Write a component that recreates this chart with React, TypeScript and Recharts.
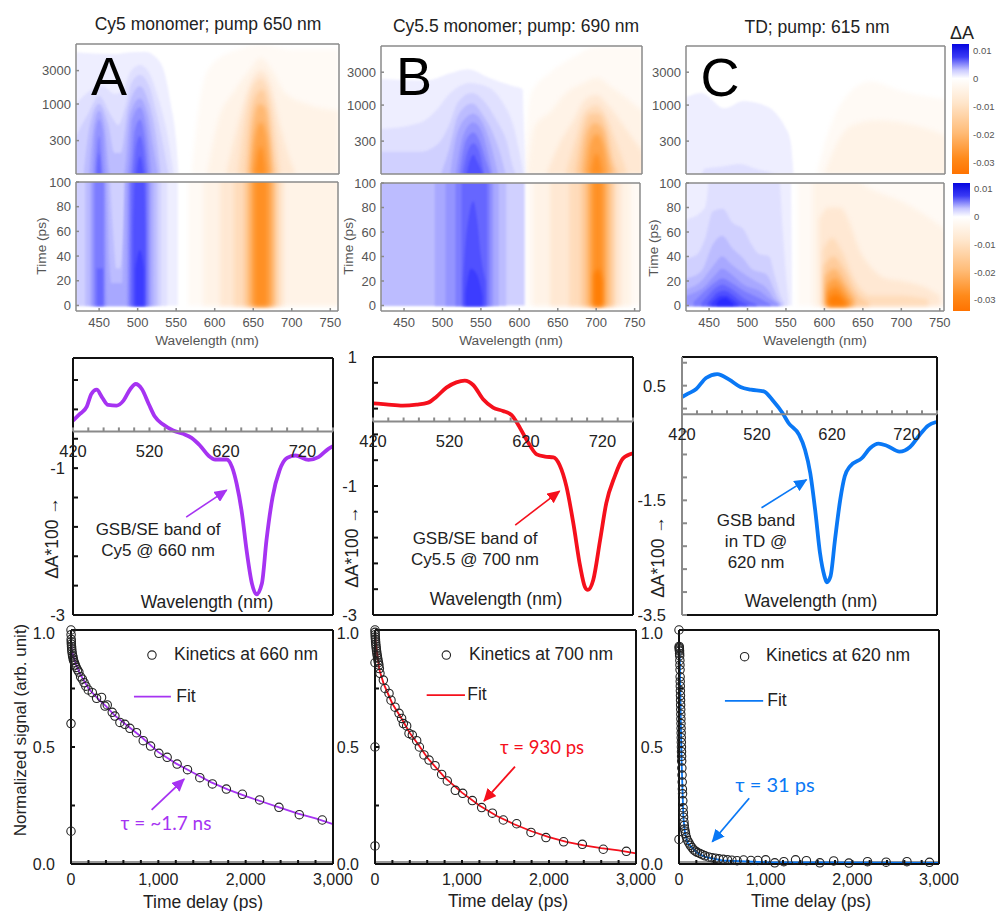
import { ComposedChart, Area, Line, Scatter, Bar, XAxis, YAxis, ReferenceLine } from 'recharts'

const FONT = '"Liberation Sans", Arial, sans-serif'
const PAD = 44
const PAD_B = 34
const PAD_T = 12
const PAD_R = 30

// contour colours, lightest first
const blueRamp = ['#eeeeff', '#e0e0ff', '#d0d0ff', '#bcbcff', '#a8a8ff', '#9494ff', '#7c7cff', '#6666ff', '#5050ff', '#3c3cff', '#2a2aff']
const orangeRamp = ['#fffaf5', '#fff3e7', '#ffe8d3', '#ffdcbb', '#ffcc9c', '#ffb872', '#ffa348', '#ff9024', '#ff7e05']

// contour outlines as [wavelength nm, time ps]
const aTopBlue = [
  [[420, 5500], [470, 5200], [490, 5500], [510, 5600], [525, 4500], [535, 2800], [543, 1000], [550, 300], [553, 100]],
  [[420, 1000], [440, 1600], [455, 1800], [470, 1400], [480, 1500], [490, 2800], [503, 3600], [515, 2800], [527, 1200], [537, 450], [547, 100]],
  [[420, 350], [435, 700], [450, 1300], [465, 700], [475, 500], [485, 1000], [492, 2000], [503, 2600], [515, 1800], [525, 700], [532, 300], [540, 100]],
  [[430, 100], [438, 500], [450, 1000], [462, 500], [470, 200], [478, 200], [488, 900], [503, 1800], [515, 1000], [523, 400], [530, 100]],
  [[437, 100], [442, 400], [450, 800], [458, 400], [464, 100], [482, 100], [490, 700], [503, 1200], [513, 700], [520, 250], [526, 100]],
  [[442, 100], [445, 400], [450, 600], [455, 400], [459, 100], [487, 100], [493, 600], [503, 900], [511, 500], [518, 100]],
  [[445, 100], [450, 350], [455, 100], [491, 100], [496, 400], [503, 600], [509, 350], [514, 100]],
  [[447, 100], [450, 200], [453, 100], [494, 100], [498, 250], [503, 350], [507, 250], [511, 100]],
  [[498, 100], [503, 180], [508, 100]],
]
const aTopOrange = [
  [[570, 100], [585, 2000], [600, 4000], [630, 6000], [660, 7000], [700, 6000], [761, 6000]],
  [[590, 100], [605, 600], [625, 1500], [645, 3000], [660, 4500], [675, 3000], [690, 1500], [720, 1000], [761, 800]],
  [[615, 100], [630, 500], [645, 1800], [660, 3000], [672, 2000], [685, 500], [695, 200], [705, 100]],
  [[630, 100], [640, 700], [650, 1800], [660, 2300], [670, 1500], [678, 500], [685, 100]],
  [[640, 100], [646, 600], [655, 1400], [662, 1600], [670, 800], [676, 200], [680, 100]],
  [[645, 100], [650, 500], [658, 1000], [665, 900], [671, 350], [675, 100]],
  [[648, 100], [652, 300], [660, 550], [667, 350], [672, 100]],
  [[652, 100], [660, 250], [667, 100]],
]
const aLowBlue = [
  [[420, 110], [552, 110]],
  [[420, 110], [538, 110]],
  [[420, 110], [530, 110]],
  [[432, 110], [462, 110], [468, 60], [472, 30], [477, 30], [482, 60], [486, 110], [525, 110]],
  [[438, 110], [460, 110], [463, 40], [466, 18], [480, 18], [484, 110], [520, 110]],
  [[441, 110], [457, 110], [460, 0], [486, 0], [487, 110], [516, 110]],
  [[444, 110], [456, 110], [456.5, 0], [489, 0], [489.5, 110], [514, 110]],
  [[447, 30], [455, 30], [455.5, 0], [491, 0], [491.5, 110], [511, 110]],
  [[494, 60], [497, 110], [508, 110], [510, 60]],
  [[497, 30], [503, 45], [508, 30]],
]
const aLowOrange = [
  [[565, 110], [761, 110]],
  [[585, 110], [761, 110]],
  [[607, 110], [690, 110]],
  [[625, 110], [685, 110]],
  [[638, 110], [680, 110]],
  [[643, 110], [677, 110]],
  [[648, 110], [673, 110]],
  [[652, 110], [668, 110]],
]
const bTopBlue = [
  [[420, 2400], [480, 2300], [510, 2900], [533, 3300], [560, 2500], [590, 1900], [604, 1700], [605, 800], [608, 100]],
  [[420, 450], [470, 550], [490, 800], [510, 1500], [535, 2100], [560, 1800], [580, 1000], [592, 500], [600, 200], [605, 100]],
  [[420, 210], [470, 210], [495, 280], [508, 500], [520, 1100], [538, 1500], [555, 1100], [570, 600], [583, 300], [592, 120], [595, 100]],
  [[498, 100], [508, 220], [520, 700], [538, 1050], [553, 700], [565, 400], [576, 180], [582, 100]],
  [[510, 100], [518, 350], [530, 650], [540, 750], [552, 550], [562, 280], [572, 100]],
  [[517, 100], [524, 280], [532, 480], [540, 560], [550, 430], [558, 220], [565, 100]],
  [[522, 100], [530, 300], [540, 400], [548, 300], [556, 160], [562, 100]],
  [[526, 100], [533, 220], [540, 280], [547, 220], [554, 100]],
  [[531, 100], [535, 150], [540, 190], [545, 150], [552, 100]],
]
const bTopOrange = [
  [[605, 100], [615, 1500], [640, 3000], [670, 5000], [700, 7000], [761, 7000]],
  [[610, 100], [620, 500], [640, 800], [660, 1500], [680, 2000], [700, 2500], [720, 1800], [761, 800]],
  [[635, 100], [650, 250], [670, 600], [685, 1200], [700, 1400], [715, 1000], [735, 500], [761, 200]],
  [[660, 100], [672, 300], [685, 800], [700, 1000], [712, 700], [725, 300], [740, 100]],
  [[672, 100], [682, 400], [692, 750], [703, 750], [714, 400], [722, 150], [730, 100]],
  [[680, 100], [688, 400], [698, 550], [708, 450], [716, 180], [722, 100]],
  [[686, 100], [692, 280], [700, 380], [708, 280], [715, 100]],
  [[692, 100], [700, 200], [708, 100]],
]
const bLowBlue = [
  [[420, 110], [607, 110]],
  [[420, 110], [583, 110]],
  [[490, 110], [573, 110]],
  [[504, 110], [566, 110]],
  [[517, 110], [562, 110]],
  [[525, 110], [558, 110]],
  [[527, 20], [530, 50], [535, 75], [540, 85], [545, 70], [550, 40], [556, 20]],
  [[530, 10], [537, 30], [545, 25], [552, 8]],
]
const bLowOrange = [
  [[610, 110], [761, 110]],
  [[618, 110], [745, 110]],
  [[640, 110], [733, 110]],
  [[665, 110], [725, 110]],
  [[680, 110], [722, 110]],
  [[687, 110], [717, 110]],
  [[692, 110], [712, 110]],
  [[696, 110], [708, 110]],
  [[697, 25], [703, 30], [708, 20]],
]
const cTopBlue = [
  [[420, 1300], [440, 1500], [470, 900], [495, 1150], [515, 1050], [535, 800], [548, 500], [556, 300], [560, 100]],
  [[440, 100], [445, 120], [470, 130], [490, 140], [510, 120], [530, 105], [540, 100]],
]
const cTopOrange = [
  [[590, 100], [605, 400], [625, 1200], [660, 2200], [700, 1600], [761, 1200]],
  [[600, 100], [612, 220], [635, 500], [670, 600], [720, 500], [761, 350]],
]
const cLowBlue = [
  [[420, 110], [556, 110], [558, 10]],
  [[420, 70], [445, 80], [452, 110], [540, 110], [546, 60], [550, 25], [553, 5]],
  [[420, 38], [435, 42], [445, 55], [455, 77], [468, 79], [480, 68], [495, 62], [505, 50], [515, 42], [528, 40], [535, 25], [543, 8], [548, 2]],
  [[420, 22], [440, 28], [455, 50], [467, 57], [480, 47], [495, 38], [505, 30], [525, 25], [533, 15], [540, 5], [545, 1]],
  [[420, 13], [440, 20], [455, 32], [467, 40], [480, 33], [495, 26], [510, 20], [525, 14], [535, 5], [542, 1]],
  [[420, 8], [445, 16], [458, 25], [467, 30], [478, 26], [495, 17], [515, 12], [530, 5], [540, 1]],
  [[430, 3], [445, 12], [458, 19], [467, 22], [478, 19], [495, 12], [515, 6], [530, 1]],
  [[440, 2], [450, 9], [460, 15], [467, 17], [478, 14], [495, 6], [512, 1]],
  [[448, 2], [455, 7], [462, 11], [470, 12], [480, 9], [492, 3], [500, 1]],
  [[453, 2], [458, 5], [465, 8], [472, 8], [480, 5], [488, 1]],
  [[460, 2], [465, 5], [472, 6], [478, 3], [482, 1]],
]
const cLowOrange = [
  [[565, 110], [761, 110]],
  [[585, 110], [620, 110], [660, 95], [700, 85], [740, 70], [761, 60]],
  [[593, 70], [605, 80], [620, 80], [650, 40], [680, 22], [700, 20], [730, 15], [750, 8]],
  [[598, 45], [610, 55], [622, 45], [640, 20], [660, 8], [700, 8], [735, 5]],
  [[599, 32], [612, 40], [625, 30], [642, 10], [658, 2]],
  [[601, 24], [613, 30], [627, 18], [640, 5]],
  [[603, 17], [614, 22], [627, 12], [636, 3]],
  [[604, 11], [615, 15], [625, 8], [632, 2]],
  [[606, 6], [615, 9], [623, 5], [628, 1]],
]

const wlTicks = [450, 500, 550, 600, 650, 700, 750]
const logTicks = [300, 1000, 3000]
const psTicks = [0, 20, 40, 60, 80, 100]
const barTicks = [0.01, 0, -0.01, -0.02, -0.03]
const barRange = [{ name: 'dA', range: [-0.034, 0.0122] }]

// transient spectra [wavelength nm, dA*100]
const specA = [[420, -0.352], [429, -0.262], [438, -0.162], [444, 0.01], [451, 0.069], [458, -0.035], [466, -0.14], [477, -0.149], [486, -0.081], [495, 0.078], [502, 0.146], [510, 0.078], [519, -0.126], [527, -0.298], [538, -0.407], [551, -0.488], [564, -0.533], [575, -0.588], [586, -0.692], [597, -0.828], [606, -0.882], [621, -0.882], [628, -0.986], [634, -1.213], [641, -1.62], [647, -2.119], [654, -2.572], [660, -2.72], [667, -2.572], [673, -1.983], [681, -1.394], [690, -1.032], [700, -0.86], [711, -0.828], [728, -0.887], [741, -0.85], [754, -0.737], [760, -0.701]]
const specB = [[420, 0.282], [437, 0.266], [459, 0.246], [477, 0.261], [492, 0.292], [503, 0.385], [516, 0.525], [529, 0.607], [540, 0.633], [551, 0.566], [564, 0.344], [577, 0.215], [590, 0.163], [601, 0.101], [610, -0.054], [621, -0.287], [634, -0.509], [645, -0.545], [656, -0.556], [664, -0.674], [673, -1.01], [682, -1.579], [691, -2.251], [697, -2.561], [701, -2.612], [708, -2.457], [717, -1.837], [725, -1.269], [736, -0.855], [747, -0.571], [760, -0.494]]
const specC = [[420, 0.302], [428, 0.36], [439, 0.442], [452, 0.634], [467, 0.703], [483, 0.605], [498, 0.477], [512, 0.43], [529, 0.401], [542, 0.227], [554, 0.023], [562, -0.151], [576, -0.355], [584, -0.616], [591, -1.023], [598, -1.72], [604, -2.419], [610, -2.826], [613, -2.93], [618, -2.826], [624, -2.186], [631, -1.488], [637, -1.081], [644, -0.907], [660, -0.762], [671, -0.587], [682, -0.512], [693, -0.547], [710, -0.651], [724, -0.57], [737, -0.355], [748, -0.198], [759, -0.134]]

// kinetics [time ps, normalized signal]
const kinA = [[0, 0.14], [0, 0.6], [0, 1], [1, 0.98], [2, 0.96], [3, 0.95], [4, 0.94], [6, 0.93], [8, 0.92], [10, 0.91], [14, 0.9], [18, 0.89], [22, 0.885], [26, 0.875], [30, 0.87], [40, 0.86], [50, 0.85], [60, 0.84], [75, 0.83], [90, 0.82], [110, 0.8], [130, 0.79], [150, 0.775], [170, 0.76], [198, 0.744], [244, 0.732], [293, 0.708], [350, 0.712], [389, 0.675], [415, 0.68], [472, 0.648], [503, 0.632], [560, 0.605], [617, 0.597], [674, 0.58], [750, 0.561], [827, 0.527], [911, 0.504], [1006, 0.473], [1101, 0.456], [1215, 0.427], [1334, 0.403], [1475, 0.369], [1619, 0.342], [1779, 0.32], [1962, 0.298], [2160, 0.274], [2381, 0.242], [2614, 0.211], [2877, 0.188]]
const fitA = [[0, 0], [1, 0.95], [10, 0.91], [50, 0.86], [100, 0.815], [200, 0.75], [300, 0.71], [400, 0.675], [500, 0.635], [600, 0.605], [800, 0.545], [1000, 0.478], [1200, 0.43], [1400, 0.39], [1600, 0.35], [1800, 0.318], [2000, 0.29], [2200, 0.265], [2400, 0.24], [2600, 0.215], [2800, 0.195], [3000, 0.17]]
const kinB = [[0, 0.077], [0, 0.5], [0, 0.86], [0, 1], [1, 0.99], [2, 0.98], [3, 0.97], [5, 0.96], [7, 0.95], [9, 0.94], [12, 0.93], [15, 0.92], [18, 0.91], [22, 0.9], [26, 0.89], [30, 0.88], [35, 0.87], [40, 0.86], [45, 0.85], [50, 0.835], [57, 0.815], [96, 0.786], [115, 0.75], [161, 0.729], [184, 0.7], [230, 0.67], [276, 0.644], [306, 0.622], [326, 0.6], [364, 0.59], [391, 0.558], [429, 0.551], [479, 0.527], [510, 0.5], [563, 0.466], [621, 0.444], [690, 0.42], [766, 0.383], [831, 0.355], [923, 0.315], [1008, 0.302], [1119, 0.271], [1226, 0.241], [1349, 0.217], [1475, 0.188], [1628, 0.172], [1793, 0.135], [1965, 0.113], [2168, 0.095], [2383, 0.084], [2624, 0.063], [2889, 0.054]]
const fitB = [[0, 0], [0.5, 0.99], [10, 0.94], [50, 0.83], [100, 0.77], [200, 0.685], [300, 0.625], [400, 0.56], [500, 0.51], [600, 0.455], [800, 0.37], [1000, 0.305], [1200, 0.25], [1400, 0.205], [1600, 0.17], [1800, 0.14], [2000, 0.115], [2200, 0.095], [2400, 0.08], [2600, 0.068], [2800, 0.058], [3000, 0.045]]
const kinC = [[0, 0.105], [0, 1], [2, 0.93], [3, 0.925], [4, 0.92], [5, 0.915], [6, 0.91], [7, 0.9], [8, 0.89], [10, 0.87], [11, 0.85], [12, 0.83], [13, 0.8], [14, 0.78], [15, 0.76], [16, 0.74], [17, 0.72], [18, 0.7], [19, 0.68], [20, 0.66], [21, 0.64], [22, 0.62], [23, 0.6], [24, 0.58], [25, 0.56], [26, 0.54], [27, 0.52], [28, 0.5], [29, 0.48], [30, 0.46], [31, 0.44], [33, 0.41], [35, 0.38], [37, 0.35], [39, 0.32], [41, 0.3], [44, 0.27], [47, 0.24], [50, 0.22], [53, 0.2], [57, 0.18], [61, 0.165], [65, 0.15], [70, 0.14], [75, 0.13], [85, 0.115], [100, 0.1], [115, 0.09], [130, 0.08], [150, 0.07], [170, 0.06], [190, 0.055], [210, 0.05], [240, 0.045], [270, 0.04], [300, 0.035], [340, 0.03], [380, 0.027], [420, 0.025], [460, 0.022], [510, 0.02], [560, 0.018], [610, 0.016], [670, 0.014], [745, 0.017], [830, 0.015], [910, 0.015], [1000, 0.018], [1105, 0.005], [1210, 0.01], [1345, 0.018], [1470, 0.014], [1625, 0.005], [1785, 0.013], [1960, 0.004], [2175, 0.01], [2390, 0.008], [2630, 0.01], [2890, 0.007]]
const fitC = [[0, 0], [0.5, 0.93], [5, 0.9], [10, 0.87], [20, 0.62], [30, 0.44], [50, 0.2], [70, 0.13], [100, 0.09], [200, 0.05], [300, 0.03], [500, 0.015], [1000, 0.008], [3000, 0.005]]

const kinTicks = [0, 200, 400, 600, 800, 1000, 1200, 1400, 1600, 1800, 2000, 2200, 2400, 2600, 2800, 3000]
const sigTicks = [0, 0.25, 0.5, 0.75, 1]
const spec20 = [420, 440, 460, 480, 500, 520, 540, 560, 580, 600, 620, 640, 660, 680, 700, 720, 740, 760]

const toXY = (pairs: number[][]) => pairs.map(([x, y]) => ({ x, y }))
const chartMargin = { top: PAD_T, right: PAD_R, bottom: 0, left: 0 }

function Txt({ x, y, size = 17.5, color = '#222', rotate = 0, font = FONT, children }: any) {
  return (
    <div
      style={{
        position: 'absolute',
        left: x,
        top: y,
        transform: `translate(-50%, -50%) rotate(${rotate}deg)`,
        fontFamily: font,
        fontSize: size,
        color,
        whiteSpace: 'nowrap',
        lineHeight: 1,
      }}
    >
      {children}
    </div>
  )
}

function HeatPanel({ rect, xMax, log, blue, orange, blueStart = 0, showX }: any) {
  const yProps = log
    ? { scale: 'log' as const, domain: [100, 7200], ticks: logTicks }
    : { domain: [-4.5, 100], ticks: psTicks }
  const edge = '#8a8a8a'
  const tickFont = { fontSize: 13, fill: '#555', fontFamily: FONT }
  return (
    <div style={{ position: 'absolute', left: rect.x - PAD, top: rect.y - 1 - PAD_T }}>
      <ComposedChart className="heat" width={rect.w + PAD + 1 + PAD_R} height={rect.h + PAD_B + 1 + PAD_T} margin={chartMargin}>
        <XAxis dataKey="x" type="number" domain={[420, xMax]} allowDataOverflow ticks={wlTicks} interval={0} height={PAD_B} tickSize={-3} tickMargin={10} tick={showX ? tickFont : false} stroke={edge} strokeWidth={1.5} />
        <XAxis xAxisId="top" orientation="top" type="number" domain={[420, xMax]} ticks={wlTicks} interval={0} height={1} tickSize={-3} tick={false} stroke={edge} strokeWidth={1.5} />
        <YAxis dataKey="y" type="number" {...yProps} allowDataOverflow interval={0} width={PAD} tickSize={-3} tickMargin={8} tick={tickFont} stroke={edge} strokeWidth={1.5} />
        <YAxis yAxisId="right" orientation="right" type="number" {...yProps} interval={0} width={1} tickSize={-3} tick={false} stroke={edge} strokeWidth={1.5} />
        {orange.map((c: number[][], i: number) => (
          <Area key={'o' + i} className="warm" data={toXY(c)} dataKey="y" type="monotone" stroke="none" fill={orangeRamp[i]} fillOpacity={1} dot={false} activeDot={false} isAnimationActive={false} />
        ))}
        {blue.map((c: number[][], i: number) => (
          <Area key={'b' + i} className="cool" data={toXY(c)} dataKey="y" type="monotone" stroke="none" fill={blueRamp[i + blueStart]} fillOpacity={1} dot={false} activeDot={false} isAnimationActive={false} />
        ))}
      </ComposedChart>
    </div>
  )
}

function ProbeLine({ rect, xMax, at, color }: any) {
  return (
    <div style={{ position: 'absolute', left: rect.x, top: rect.y }}>
      <ComposedChart width={rect.w} height={rect.h} margin={{ top: 0, right: 0, bottom: 0, left: 0 }} data={[{ x: at, y: 0 }]}>
        <XAxis hide dataKey="x" type="number" domain={[420, xMax]} />
        <YAxis hide type="number" domain={[0, 1]} />
        <ReferenceLine x={at} stroke={color} strokeWidth={3.5} strokeOpacity={0.85} />
      </ComposedChart>
    </div>
  )
}

function ColorBar({ x, y, h }: any) {
  return (
    <div style={{ position: 'absolute', left: x, top: y - 8 }}>
      <ComposedChart width={51} height={h + 16} data={barRange} margin={{ top: 8, right: 0, bottom: 8, left: 0 }} barCategoryGap={0}>
        <XAxis hide dataKey="name" />
        <YAxis orientation="right" width={34} type="number" domain={[-0.034, 0.0122]} ticks={barTicks} interval={0} tickLine={false} axisLine={false} tickSize={0} tickMargin={4} tick={{ fontSize: 9.5, fill: '#555', fontFamily: FONT }} tickFormatter={(v: number) => String(v)} />
        <Bar dataKey="range" fill="url(#barFill)" isAnimationActive={false} />
      </ComposedChart>
    </div>
  )
}

function Spectrum({ rect, domain, ticks, labels, cross, data, color, arrowId, arrow, tickGap, leftEdge = '#111' }: any) {
  const crossH = ((domain[1] - cross) / (domain[1] - domain[0])) * rect.h
  const labelStyle = { fontSize: 16.5, fill: '#222', fontFamily: FONT }
  return (
    <>
      <div style={{ position: 'absolute', left: rect.x - PAD, top: rect.y - 1 - PAD_T }}>
        <ComposedChart width={rect.w + PAD + 1 + PAD_R} height={rect.h + PAD_B + 1 + PAD_T} margin={chartMargin}>
          <XAxis dataKey="x" type="number" domain={[420, 760]} ticks={[]} height={PAD_B} tick={false} stroke="#111" strokeWidth={2} />
          <XAxis xAxisId="top" orientation="top" type="number" domain={[420, 760]} ticks={[]} height={1} tick={false} stroke="#111" strokeWidth={2} />
          <YAxis dataKey="y" type="number" domain={domain} ticks={ticks} interval={0} width={PAD} tickSize={-5} tickMargin={tickGap + 5} tick={labelStyle} stroke={leftEdge} strokeWidth={2} tickFormatter={(v: number) => (labels.includes(v) ? String(v) : '')} />
          <YAxis yAxisId="right" orientation="right" type="number" domain={domain} ticks={[]} width={1} tick={false} stroke="#111" strokeWidth={2} />
          <Line data={toXY(data)} dataKey="y" type="monotone" stroke={color} strokeWidth={3.8} dot={false} activeDot={false} isAnimationActive={false} />
          <ReferenceLine segment={[{ x: arrow[0], y: arrow[1] }, { x: arrow[2], y: arrow[3] }]} stroke={color} strokeWidth={1.6} markerEnd={`url(#${arrowId})`} />
        </ComposedChart>
      </div>
      <div style={{ position: 'absolute', left: rect.x - PAD, top: rect.y }}>
        <ComposedChart width={rect.w + PAD + PAD_R} height={crossH + 44} margin={{ top: 0, right: PAD_R, bottom: 0, left: PAD }} data={[{ x: 420, y: 0 }]}>
          <XAxis dataKey="x" type="number" domain={[420, 760]} ticks={spec20} interval={0} height={44} tickSize={-4} tickMargin={18} tick={labelStyle} stroke="#8a8a8a" strokeWidth={2} tickFormatter={(v: number) => ((v - 420) % 100 === 0 ? String(v) : '')} />
          <YAxis hide type="number" domain={[0, 1]} />
        </ComposedChart>
      </div>
    </>
  )
}

// the 1.0 label sits a little below its tick in the original
function SigTick({ x, y, payload }: any) {
  const v = payload.value
  if (v * 2 !== Math.round(v * 2)) return <g />
  return (
    <text x={x} y={y + (v === 1 ? 9 : 6)} textAnchor="end" fontSize={16} fill="#222" fontFamily={FONT}>
      {v.toFixed(1)}
    </text>
  )
}

function Kinetics({ rect, points, fit, color, arrowId, arrow, legendDot, legendFit, leftEdge = '#111' }: any) {
  const labelStyle = { fontSize: 16, fill: '#222', fontFamily: FONT }
  const ring = (p: any) => <circle cx={p.cx} cy={p.cy} r={4.2} fill="none" stroke="#222" strokeWidth={1.1} />
  return (
    <div style={{ position: 'absolute', left: rect.x - PAD, top: rect.y - 1 - PAD_T }}>
      <ComposedChart width={rect.w + PAD + 1 + PAD_R} height={rect.h + PAD_B + 1 + PAD_T} margin={chartMargin}>
        <XAxis dataKey="x" type="number" domain={[0, 3000]} ticks={kinTicks} interval={0} height={PAD_B} tickSize={-4} tickMargin={14} tick={labelStyle} stroke="#111" strokeWidth={2} tickFormatter={(v: number) => (v % 1000 === 0 ? v.toLocaleString('en-US') : '')} />
        <XAxis xAxisId="top" orientation="top" type="number" domain={[0, 3000]} ticks={[]} height={1} tick={false} stroke="#111" strokeWidth={2} />
        <YAxis dataKey="y" type="number" domain={[0, 1]} ticks={sigTicks} interval={0} width={PAD} tickSize={-4} tickMargin={20} tick={<SigTick />} stroke={leftEdge} strokeWidth={2} />
        <YAxis yAxisId="right" orientation="right" type="number" domain={[0, 1]} ticks={[]} width={1} tick={false} stroke="#111" strokeWidth={2} />
        <ReferenceLine y={0.009} stroke="#777" strokeWidth={1.5} />
        <Line data={toXY(fit)} dataKey="y" type="linear" stroke={color} strokeWidth={1.8} dot={false} activeDot={false} isAnimationActive={false} />
        <Scatter data={toXY(points)} isAnimationActive={false} shape={ring} />
        <Scatter data={toXY([legendDot])} isAnimationActive={false} shape={ring} />
        <ReferenceLine segment={[{ x: legendFit[0], y: legendFit[2] }, { x: legendFit[1], y: legendFit[2] }]} stroke={color} strokeWidth={1.8} />
        <ReferenceLine segment={[{ x: arrow[0], y: arrow[1] }, { x: arrow[2], y: arrow[3] }]} stroke={color} strokeWidth={1.8} markerEnd={`url(#${arrowId})`} />
      </ComposedChart>
    </div>
  )
}

const PURPLE = '#a633f2'
const RED = '#f5101c'
const BLUE = '#0a78f5'

export default function App() {
  const heatNote = { size: 13.7, color: '#555' }
  return (
    <div style={{ position: 'absolute', left: 0, top: 0, width: 996, height: 911, overflow: 'hidden', background: '#fff' }}>
      <style>{'.heat .warm .recharts-area-area{filter:blur(2px)} .heat .cool .recharts-area-area{filter:blur(0.8px)}'}</style>
      <svg width={0} height={0} style={{ position: 'absolute' }}>
        <defs>
          {[['arrowPurple', PURPLE], ['arrowRed', RED], ['arrowBlue', BLUE]].map(([id, c]) => (
            <marker key={id} id={id} markerUnits="userSpaceOnUse" markerWidth={14} markerHeight={12} refX={12} refY={6} orient="auto">
              <path d="M0,0 L13,6 L0,12 Z" fill={c} />
            </marker>
          ))}
          <linearGradient id="barFill" x1="0" y1="0" x2="0" y2="1">
            <stop offset="0" stopColor="#0606e0" />
            <stop offset="0.1" stopColor="#3a3af5" />
            <stop offset="0.2" stopColor="#c8c8ff" />
            <stop offset="0.265" stopColor="#ffffff" />
            <stop offset="0.45" stopColor="#ffe6cc" />
            <stop offset="0.68" stopColor="#ffbc78" />
            <stop offset="0.88" stopColor="#ff8a1a" />
            <stop offset="1" stopColor="#ff7300" />
          </linearGradient>
        </defs>
      </svg>

      <HeatPanel rect={{ x: 76, y: 44, w: 263, h: 130 }} xMax={761.5} log blue={aTopBlue} orange={aTopOrange} />
      <HeatPanel rect={{ x: 76, y: 182, w: 262, h: 129 }} xMax={760} blue={aLowBlue} orange={aLowOrange} showX />
      <HeatPanel rect={{ x: 381, y: 46, w: 261, h: 128 }} xMax={759} log blue={bTopBlue} orange={bTopOrange} />
      <HeatPanel rect={{ x: 381, y: 183, w: 259, h: 128 }} xMax={757} blue={bLowBlue} blueStart={2} orange={bLowOrange} showX />
      <HeatPanel rect={{ x: 686, y: 46, w: 259, h: 128 }} xMax={757} log blue={cTopBlue} orange={cTopOrange} />
      <HeatPanel rect={{ x: 686, y: 183, w: 258, h: 128 }} xMax={755.5} blue={cLowBlue} orange={cLowOrange} showX />

      <ProbeLine rect={{ x: 76, y: 44, w: 263, h: 264 }} xMax={761.5} at={659} color="#cc5cee" />
      <ProbeLine rect={{ x: 381, y: 44, w: 261, h: 264 }} xMax={759} at={700} color="#ff3030" />
      <ProbeLine rect={{ x: 686, y: 44, w: 259, h: 264 }} xMax={757} at={612} color="#3a9bf5" />

      <ColorBar x={952} y={44} h={130} />
      <ColorBar x={953} y={183} h={128} />
      <Txt x={962} y={33} size={18}>ΔA</Txt>

      <Txt x={208} y={25}>Cy5 monomer; pump 650 nm</Txt>
      <Txt x={516} y={27}>Cy5.5 monomer; pump: 690 nm</Txt>
      <Txt x={817} y={28}>TD; pump: 615 nm</Txt>
      <Txt x={109} y={76} size={54} color="#000">A</Txt>
      <Txt x={414} y={76} size={54} color="#000">B</Txt>
      <Txt x={720} y={77} size={54} color="#000">C</Txt>

      <Txt x={207} y={341} {...heatNote}>Wavelength (nm)</Txt>
      <Txt x={511} y={341} {...heatNote}>Wavelength (nm)</Txt>
      <Txt x={815} y={341} {...heatNote}>Wavelength (nm)</Txt>
      <Txt x={42} y={246} rotate={-90} {...heatNote}>Time (ps)</Txt>
      <Txt x={349} y={246} rotate={-90} {...heatNote}>Time (ps)</Txt>
      <Txt x={654} y={248} rotate={-90} {...heatNote}>Time (ps)</Txt>

      <Spectrum rect={{ x: 73, y: 358, w: 260, h: 257 }} domain={[-3, 0.5]} ticks={[-3, -2.6, -2.2, -1.8, -1.4, -1, -0.6, -0.2, 0.2]} labels={[-1, -3]} cross={-0.5} data={specA} color={PURPLE} arrowId="arrowPurple" arrow={[568, -1.666, 621, -1.3]} tickGap={8} />
      <Spectrum rect={{ x: 373, y: 357, w: 260, h: 258 }} domain={[-3, 1]} ticks={[-3, -2.6, -2.2, -1.8, -1.4, -1, -0.6, -0.2, 0.2, 0.6, 1]} labels={[1, -1, -3]} cross={0} data={specB} color={RED} arrowId="arrowRed" arrow={[606, -1.605, 664, -1.08]} tickGap={16} />
      <Spectrum rect={{ x: 682, y: 357, w: 255, h: 258 }} domain={[-3.5, 1]} ticks={[-3.5, -3.1, -2.7, -2.3, -1.9, -1.5, -1.1, -0.7, -0.3, 0.1, 0.5, 0.9]} labels={[0.5, -1.5, -3.5]} cross={0} data={specC} color={BLUE} arrowId="arrowBlue" arrow={[526, -1.63, 586, -1.14]} leftEdge="#8a8a8a" tickGap={16} />

      <Txt x={158} y={529} size={17}>GSB/SE band of</Txt>
      <Txt x={158} y={550} size={17}>Cy5 @ 660 nm</Txt>
      <Txt x={207} y={603}>Wavelength (nm)</Txt>
      <Txt x={53} y={538} rotate={-90}>ΔA*100 →</Txt>
      <Txt x={475} y={538} size={17}>GSB/SE band of</Txt>
      <Txt x={475} y={559} size={17}>Cy5.5 @ 700 nm</Txt>
      <Txt x={496} y={600}>Wavelength (nm)</Txt>
      <Txt x={353} y={547} rotate={-90}>ΔA*100 →</Txt>
      <Txt x={756} y={520} size={17}>GSB band</Txt>
      <Txt x={756} y={541} size={17}>in TD @</Txt>
      <Txt x={756} y={562} size={17}>620 nm</Txt>
      <Txt x={811} y={602}>Wavelength (nm)</Txt>
      <Txt x={659} y={557} rotate={-90}>ΔA*100 →</Txt>

      <Kinetics rect={{ x: 71, y: 630, w: 262, h: 234 }} points={kinA} fit={fitA} color={PURPLE} arrowId="arrowPurple" arrow={[923, 0.231, 1296, 0.363]} legendDot={[927, 0.893]} legendFit={[721, 1144, 0.715]} />
      <Kinetics rect={{ x: 375, y: 630, w: 261, h: 234 }} points={kinB} fit={fitB} color={RED} arrowId="arrowRed" arrow={[1609, 0.416, 1253, 0.269]} legendDot={[820, 0.893]} legendFit={[594, 1034, 0.722]} />
      <Kinetics rect={{ x: 679, y: 630, w: 260, h: 234 }} points={kinC} fit={fitC} color={BLUE} arrowId="arrowBlue" arrow={[810, 0.281, 384, 0.095]} legendDot={[757, 0.886]} legendFit={[530, 971, 0.697]} />

      <Txt x={246} y={655}>Kinetics at 660 nm</Txt>
      <Txt x={186} y={697}>Fit</Txt>
      <Txt x={166} y={822} size={19} color={PURPLE} font="Lato">τ = ~1.7 ns</Txt>
      <Txt x={541} y={655}>Kinetics at 700 nm</Txt>
      <Txt x={477} y={695}>Fit</Txt>
      <Txt x={542} y={747} size={18.5} color={RED} font="Lato">τ = 930 ps</Txt>
      <Txt x={838} y={656}>Kinetics at 620 nm</Txt>
      <Txt x={777} y={701}>Fit</Txt>
      <Txt x={775} y={784} size={20} color={BLUE} font="Lato">τ = 31 ps</Txt>

      <Txt x={203} y={903}>Time delay (ps)</Txt>
      <Txt x={508} y={902}>Time delay (ps)</Txt>
      <Txt x={811} y={902}>Time delay (ps)</Txt>
      <Txt x={20} y={730} size={17} rotate={-90}>Normalized signal (arb. unit)</Txt>
    </div>
  )
}
